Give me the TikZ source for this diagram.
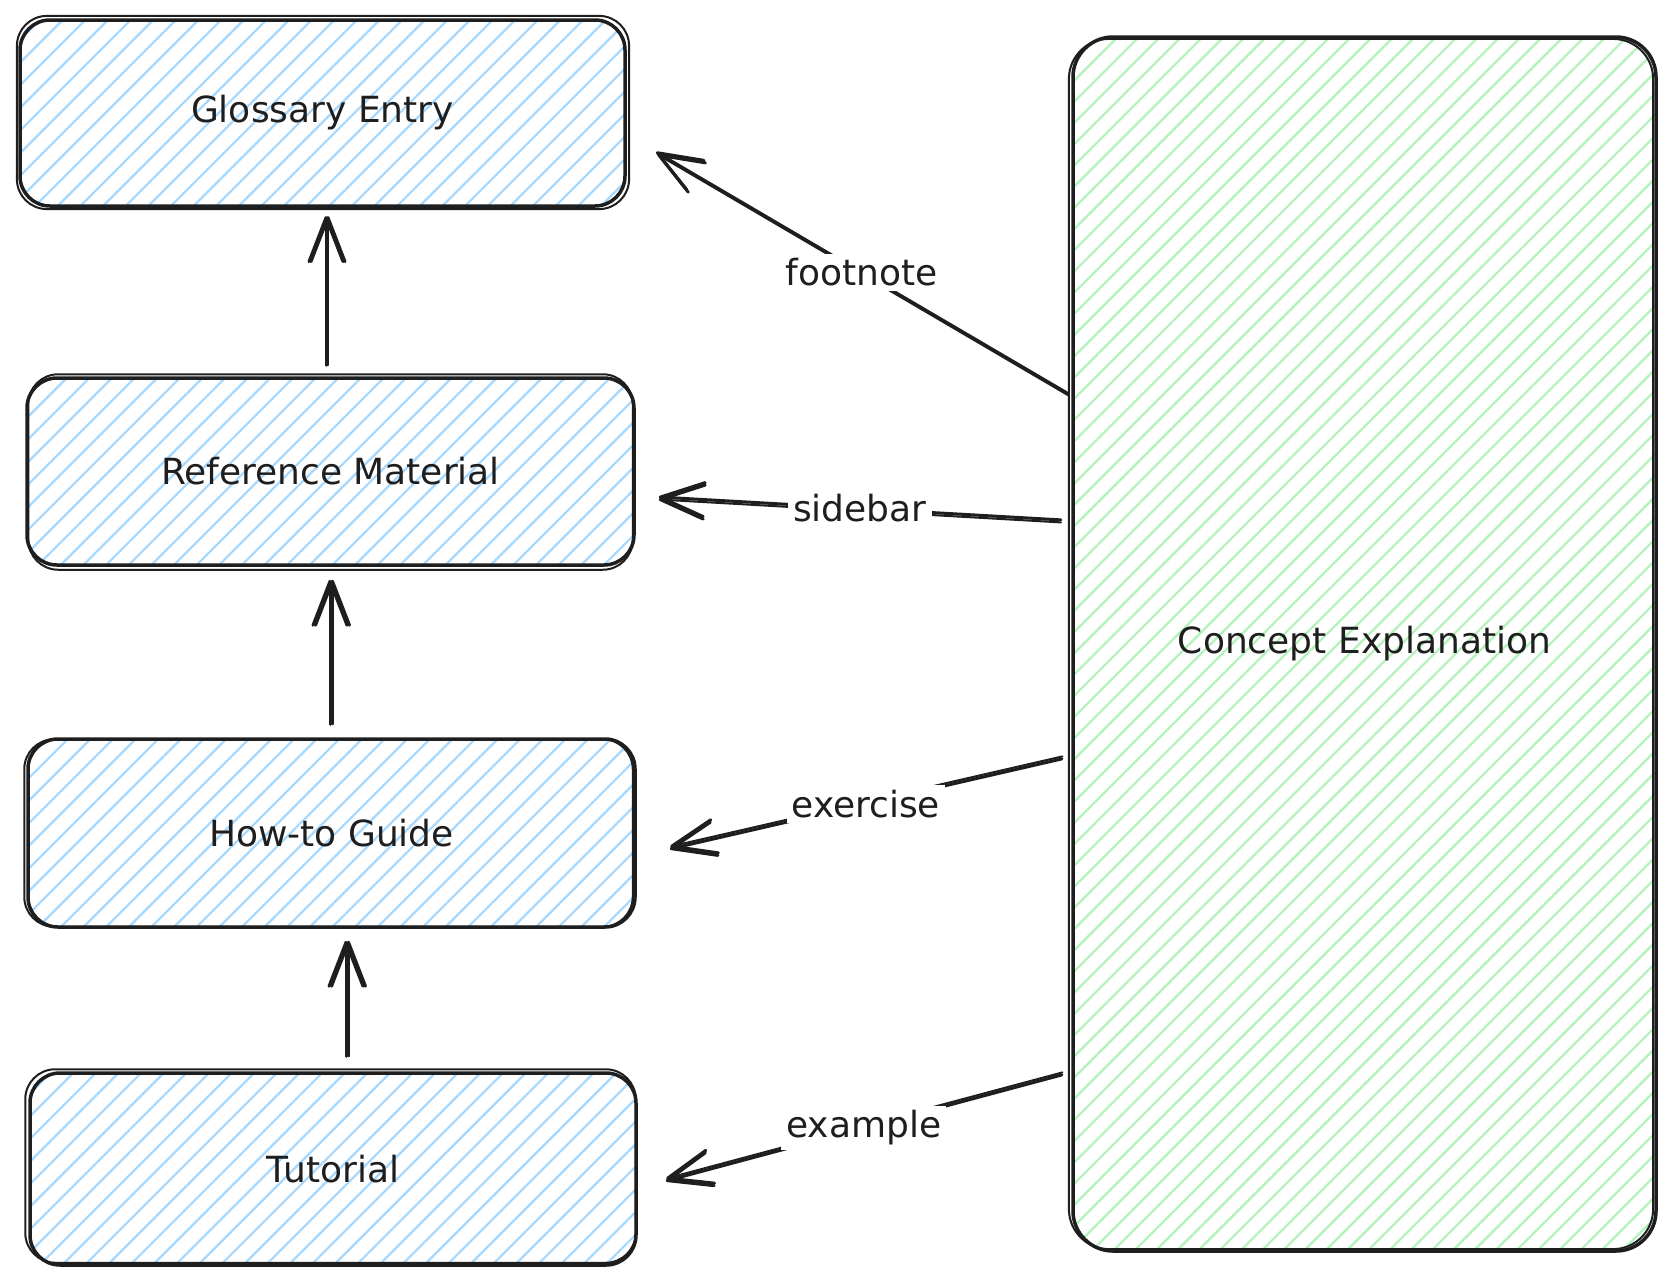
\documentclass[tikz,border=0pt]{standalone}
\usepackage{fontspec}
\setmainfont{DejaVu Sans}
\usetikzlibrary{arrows.meta,patterns.meta,calc}
\definecolor{ink}{HTML}{1E1E1E}
\definecolor{hblue}{HTML}{A5D8FF}
\definecolor{hgreen}{HTML}{B2F2BB}
\tikzset{
  box/.style={draw=ink, line width=3.5pt, rounded corners=30pt, line join=round,
    inner sep=0pt, font=\fontsize{36}{40}\selectfont, text=ink},
  bluebox/.style={box, pattern={Lines[angle=45,distance=16pt,line width=2.2pt]}, pattern color=hblue},
  greenbox/.style={box, rounded corners=40pt, pattern={Lines[angle=45,distance=15pt,line width=2.2pt]}, pattern color=hgreen},
  ghost/.style={draw=ink, line width=2pt, rounded corners=30pt},
  conn/.style={draw=ink, line width=3pt, line cap=round, line join=round,
    -{Straight Barb[length=44pt,width=34pt,line width=3pt,round]}},
  connghost/.style={conn, line width=2pt},
  lbl/.style={fill=white, inner sep=5pt, font=\fontsize{36}{40}\selectfont, text=ink},
}
\begin{document}
\begin{tikzpicture}[x=1pt,y=-1pt]
\useasboundingbox (0,0) rectangle (1676,1282);
\fill[white] (0,0) rectangle (1676,1282);

% boxes
\node[bluebox, minimum width=605pt, minimum height=186pt] (gloss) at (322.5,113) {Glossary Entry};
\node[bluebox, minimum width=607pt, minimum height=187pt] (ref) at (330.5,471.5) {Reference Material};
\node[bluebox, minimum width=607pt, minimum height=188pt] (howto) at (331.5,833) {How-to Guide};
\node[bluebox, minimum width=606pt, minimum height=192pt] (tut) at (333,1169) {Tutorial};
\node[greenbox, minimum width=583pt, minimum height=1214pt] (concept) at (1364.5,644) {Concept Explanation};

% sketchy second outlines
\draw[ghost] ([shift={(-2,-3)}]gloss.north west) rectangle ([shift={(3,2)}]gloss.south east);
\draw[ghost] ([shift={(3,-2)}]ref.north west) rectangle ([shift={(-3,3)}]ref.south east);
\draw[ghost] ([shift={(-2,2)}]howto.north west) rectangle ([shift={(-4,-2)}]howto.south east);
\draw[ghost] ([shift={(-3,-2)}]tut.north west) rectangle ([shift={(-2,-4)}]tut.south east);
\draw[ghost, rounded corners=40pt] ([shift={(-3,3)}]concept.north west) rectangle ([shift={(-4,-3)}]concept.south east);

% vertical connectors
\draw[connghost, transform canvas={xshift=2pt}] ([xshift=-4.5pt,yshift=11pt]ref.north) -- ([xshift=3.5pt,yshift=-9pt]gloss.south);
\draw[conn] ([xshift=-4.5pt,yshift=11pt]ref.north) -- ([xshift=3.5pt,yshift=-9pt]gloss.south);
\draw[connghost, transform canvas={xshift=2.5pt}] ([xshift=-1.5pt,yshift=13pt]howto.north) -- ([xshift=-0.5pt,yshift=-13pt]ref.south);
\draw[conn] ([xshift=-1.5pt,yshift=13pt]howto.north) -- ([xshift=-0.5pt,yshift=-13pt]ref.south);
\draw[connghost, transform canvas={xshift=2.5pt}] ([xshift=13pt,yshift=15pt]tut.north) -- ([xshift=14.5pt,yshift=-12pt]howto.south);
\draw[conn] ([xshift=13pt,yshift=15pt]tut.north) -- ([xshift=14.5pt,yshift=-12pt]howto.south);

% labelled connectors from Concept Explanation
\draw[connghost, transform canvas={xshift=1.5pt,yshift=-2.5pt}] ([xshift=-5pt,yshift=-357pt]concept.north west) -- ([xshift=30pt,yshift=-39pt]gloss.east);
\draw[conn] ([xshift=-5pt,yshift=-357pt]concept.north west) -- node[lbl] {footnote} ([xshift=30pt,yshift=-39pt]gloss.east);

\draw[connghost, transform canvas={yshift=-2.5pt}] ([xshift=-11pt,yshift=-484pt]concept.north west) -- ([xshift=23pt,yshift=-25.5pt]ref.east);
\draw[conn] ([xshift=-11pt,yshift=-484pt]concept.north west) -- node[lbl] {sidebar} ([xshift=23pt,yshift=-25.5pt]ref.east);

\draw[connghost, transform canvas={xshift=0.5pt,yshift=2.5pt}] ([xshift=-10pt,yshift=-723pt]concept.north west) -- ([xshift=33pt,yshift=-16pt]howto.east);
\draw[conn] ([xshift=-10pt,yshift=-723pt]concept.north west) -- node[lbl] {exercise} ([xshift=33pt,yshift=-16pt]howto.east);

\draw[connghost, transform canvas={xshift=0.5pt,yshift=2.5pt}] ([xshift=-10pt,yshift=-1039pt]concept.north west) -- ([xshift=28pt,yshift=-12pt]tut.east);
\draw[conn] ([xshift=-10pt,yshift=-1039pt]concept.north west) -- node[lbl] {example} ([xshift=28pt,yshift=-12pt]tut.east);
\end{tikzpicture}
\end{document}
